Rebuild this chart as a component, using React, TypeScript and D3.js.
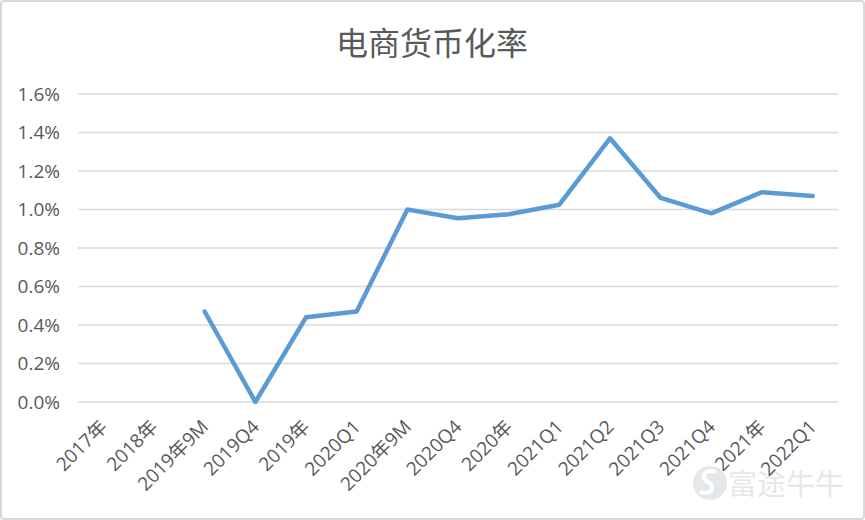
import React from "react";
import * as d3 from "d3";

const categories = ["2017年","2018年","2019年9M","2019Q4","2019年","2020Q1","2020年9M","2020Q4","2020年","2021Q1","2021Q2","2021Q3","2021Q4","2021年","2022Q1"];
const values: (number | null)[] = [null, null, 0.47, 0.0, 0.44, 0.47, 1.0, 0.955, 0.975, 1.025, 1.37, 1.06, 0.98, 1.09, 1.07];
const yTicks = [0, 0.2, 0.4, 0.6, 0.8, 1.0, 1.2, 1.4, 1.6];
const title = "电商货币化率";
const watermark = "富途牛牛";

const W = 865, H = 520;
const M = { left: 78, right: 838, top: 94, bottom: 402 };
const font = "'Open Sans', 'Noto Sans CJK SC', sans-serif";

export default function App() {
  const x = d3.scaleBand<string>().domain(categories).range([M.left, M.right]);
  const y = d3.scaleLinear().domain([0, 1.6]).range([M.bottom, M.top]);
  const line = d3.line<number | null>()
    .defined((d) => d !== null)
    .x((_, i) => (x(categories[i]) as number) + x.bandwidth() / 2)
    .y((d) => y(d as number));
  const path = line(values) || "";
  return (
    <div style={{ position: "fixed", left: 0, top: 0 }}>
      <svg width={W} height={H} style={{ display: "block" }}>
        <rect x={0} y={0} width={W} height={H} fill="#fff" />
        <rect x={1} y={1} width={W - 2} height={H - 2} fill="none" stroke="#d9d9d9" strokeWidth={2} rx={3} />
        <text x={432} y={55} textAnchor="middle" fontFamily={font} fontSize={32} fill="#595959">{title}</text>
        {yTicks.map((t) => (
          <g key={t}>
            <line x1={M.left} x2={M.right} y1={y(t)} y2={y(t)} stroke="#d9d9d9" strokeWidth={1.5} />
            <text x={60} y={y(t)} dy="0.35em" textAnchor="end" fontFamily={font} fontSize={19} fill="#595959">{t.toFixed(1) + "%"}</text>
          </g>
        ))}
        <g opacity={0.9}>
          <circle cx={710} cy={483} r={17} fill="#e3e6e9" />
          <path d="M716 472 C704 468 700 478 708 482 C716 486 712 496 700 492" fill="none" stroke="#fff" strokeWidth={4} />
          <text x={728} y={495} fontFamily={font} fontSize={29} fill="#e3e6e9">{watermark}</text>
        </g>
        {categories.map((c) => {
          const cx = (x(c) as number) + x.bandwidth() / 2 + 5;
          const cy = 428;
          return (
            <text key={c} x={cx} y={cy} textAnchor="end" fontFamily={font} fontSize={19} fill="#595959" transform={`rotate(-45 ${cx} ${cy})`}>{c}</text>
          );
        })}
        <path d={path} fill="none" stroke="#5b9bd5" strokeWidth={4.5} strokeLinejoin="round" strokeLinecap="round" />
      </svg>
    </div>
  );
}
